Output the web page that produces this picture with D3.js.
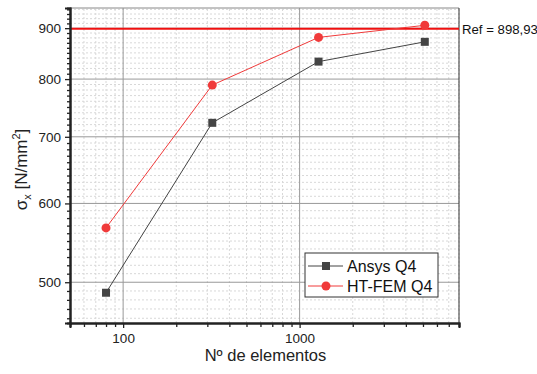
<!DOCTYPE html>
<html>
<head>
<meta charset="utf-8">
<script src="https://cdn.jsdelivr.net/npm/d3@7"></script>
<style>
  body { margin: 0; background: #fff; }
  text { font-family: "Liberation Sans", Arial, sans-serif; }
</style>
</head>
<body>
<div id="chart"></div>
<script>
// Data
var elements        =   [80, 320, 1280, 5120];
var ansys_q4        =   [488, 723, 833, 872];
var htfem_q4        =   [567, 789, 881, 906];
var ref_value       =   898.93;
var ref_label       =   "Ref = 898,93";
var x_ticks         =   [100, 1000];
var y_ticks         =   [500, 600, 700, 800, 900];
var series_names    =   ["Ansys Q4", "HT-FEM Q4"];

var chart_width     =   537;
var chart_height    =   374;
var margin          =   { top: 8, right: 78, bottom: 51, left: 70 };

// Scales
var x_scale         =   d3.scaleLog()
    .domain([50, 8000])
    .range([margin.left, chart_width - margin.right]);
var y_scale         =   d3.scaleLog()
    .domain([455, 943])
    .range([chart_height - margin.bottom, margin.top]);

// Minor tick values
var x_minor = [];
[10, 100, 1000].forEach(function(b) {
    for (var k = 1; k <= 9; k++) {
        var v = b * k;
        if (v >= 50 && v <= 8000 && x_ticks.indexOf(v) < 0) x_minor.push(v);
    }
});
var y_minor = d3.range(460, 941, 10).filter(function(v) {
    return y_ticks.indexOf(v) < 0;
});

var svg             =   d3.select("#chart")
    .append("svg")
    .attr("width", chart_width)
    .attr("height", chart_height);

var x0 = margin.left, x1 = chart_width - margin.right;
var y0 = chart_height - margin.bottom, y1 = margin.top;

// Minor grid
svg.append("g").selectAll("line").data(x_minor).enter().append("line")
    .attr("x1", function(d) { return x_scale(d); })
    .attr("x2", function(d) { return x_scale(d); })
    .attr("y1", y0).attr("y2", y1)
    .attr("stroke", "#d8d8d8").attr("stroke-dasharray", "2,2");
svg.append("g").selectAll("line").data(y_minor).enter().append("line")
    .attr("y1", function(d) { return y_scale(d); })
    .attr("y2", function(d) { return y_scale(d); })
    .attr("x1", x0).attr("x2", x1)
    .attr("stroke", "#d8d8d8").attr("stroke-dasharray", "2,2");

// Major grid
svg.append("g").selectAll("line").data(x_ticks).enter().append("line")
    .attr("x1", function(d) { return x_scale(d); })
    .attr("x2", function(d) { return x_scale(d); })
    .attr("y1", y0).attr("y2", y1)
    .attr("stroke", "#999");
svg.append("g").selectAll("line").data(y_ticks).enter().append("line")
    .attr("y1", function(d) { return y_scale(d); })
    .attr("y2", function(d) { return y_scale(d); })
    .attr("x1", x0).attr("x2", x1)
    .attr("stroke", "#999");

// Frame top / right
svg.append("line").attr("x1", x0).attr("x2", x1).attr("y1", y1).attr("y2", y1)
    .attr("stroke", "#888");
svg.append("line").attr("x1", x1).attr("x2", x1).attr("y1", y1).attr("y2", y0)
    .attr("stroke", "#333");

// Reference line
svg.append("line")
    .attr("x1", x0).attr("x2", x1)
    .attr("y1", y_scale(ref_value)).attr("y2", y_scale(ref_value))
    .attr("stroke", "#f01010").attr("stroke-width", 2);
svg.append("text")
    .attr("x", x1 + 3).attr("y", y_scale(ref_value) + 5)
    .attr("font-size", 13.2).attr("fill", "#111")
    .text(ref_label);

// Axes
var x_axis = d3.axisBottom(x_scale).tickValues(x_ticks)
    .tickFormat(d3.format("d")).tickSize(5).tickPadding(5);
var x_axis_minor = d3.axisBottom(x_scale).tickValues(x_minor)
    .tickFormat("").tickSize(4);
var y_axis = d3.axisLeft(y_scale).tickValues(y_ticks)
    .tickFormat(d3.format("d")).tickSize(5).tickPadding(4);
var y_axis_minor = d3.axisLeft(y_scale).tickValues(y_minor)
    .tickFormat("").tickSize(3);

function style_axis(g) {
    g.select(".domain").attr("stroke", "#222").attr("stroke-width", 2);
    g.selectAll(".tick line").attr("stroke", "#222").attr("stroke-width", 1.3);
    g.selectAll(".tick text").attr("font-size", 13.5).attr("fill", "#222")
        .attr("font-family", "Liberation Sans, Arial, sans-serif");
}

svg.append("g").attr("transform", "translate(0," + y0 + ")").call(x_axis_minor).call(style_axis);
svg.append("g").attr("transform", "translate(0," + y0 + ")").call(x_axis).call(style_axis);
svg.append("g").attr("transform", "translate(" + x0 + ",0)").call(y_axis_minor).call(style_axis);
svg.append("g").attr("transform", "translate(" + x0 + ",0)").call(y_axis).call(style_axis);

// Axis labels
svg.append("text")
    .attr("x", (x0 + x1) / 2 + 1).attr("y", 361)
    .attr("text-anchor", "middle").attr("font-size", 16.5).attr("fill", "#222")
    .text("Nº de elementos");

var ylab = svg.append("text")
    .attr("transform", "translate(27," + ((y0 + y1) / 2 + 4) + ") rotate(-90)")
    .attr("text-anchor", "middle").attr("font-size", 17).attr("fill", "#222");
ylab.append("tspan").text("σ");
ylab.append("tspan").attr("font-size", 11).attr("dy", 4).text("x");
ylab.append("tspan").attr("dy", -4).text(" [N/mm");
ylab.append("tspan").attr("font-size", 11).attr("dy", -7).text("2");
ylab.append("tspan").attr("dy", 7).text("]");

// Series
var line = d3.line()
    .x(function(d) { return x_scale(d[0]); })
    .y(function(d) { return y_scale(d[1]); });

var ansys_pts = elements.map(function(e, i) { return [e, ansys_q4[i]]; });
var htfem_pts = elements.map(function(e, i) { return [e, htfem_q4[i]]; });

svg.append("path").datum(ansys_pts).attr("d", line)
    .attr("fill", "none").attr("stroke", "#444").attr("stroke-width", 1);
svg.append("g").selectAll("rect").data(ansys_pts).enter().append("rect")
    .attr("x", function(d) { return x_scale(d[0]) - 4; })
    .attr("y", function(d) { return y_scale(d[1]) - 4; })
    .attr("width", 8).attr("height", 8)
    .attr("fill", "#444");

svg.append("path").datum(htfem_pts).attr("d", line)
    .attr("fill", "none").attr("stroke", "#f03a3a").attr("stroke-width", 1);
svg.append("g").selectAll("circle").data(htfem_pts).enter().append("circle")
    .attr("cx", function(d) { return x_scale(d[0]); })
    .attr("cy", function(d) { return y_scale(d[1]); })
    .attr("r", 4.5)
    .attr("fill", "#f03a3a");

// Legend
var legend = svg.append("g").attr("transform", "translate(305,253)");
legend.append("rect").attr("width", 133).attr("height", 44)
    .attr("fill", "#fff").attr("stroke", "#333").attr("stroke-width", 1);
var leg_colors = ["#444", "#f03a3a"];
series_names.forEach(function(name, i) {
    var yy = 13 + i * 20;
    legend.append("line").attr("x1", 3).attr("x2", 38).attr("y1", yy).attr("y2", yy)
        .attr("stroke", leg_colors[i]);
    if (i === 0) {
        legend.append("rect").attr("x", 17).attr("y", yy - 4).attr("width", 8).attr("height", 8)
            .attr("fill", leg_colors[i]);
    } else {
        legend.append("circle").attr("cx", 21).attr("cy", yy).attr("r", 4.5)
            .attr("fill", leg_colors[i]);
    }
    legend.append("text").attr("x", 42).attr("y", yy + 6)
        .attr("font-size", 16).attr("fill", "#111").text(name);
});
</script>
</body>
</html>
